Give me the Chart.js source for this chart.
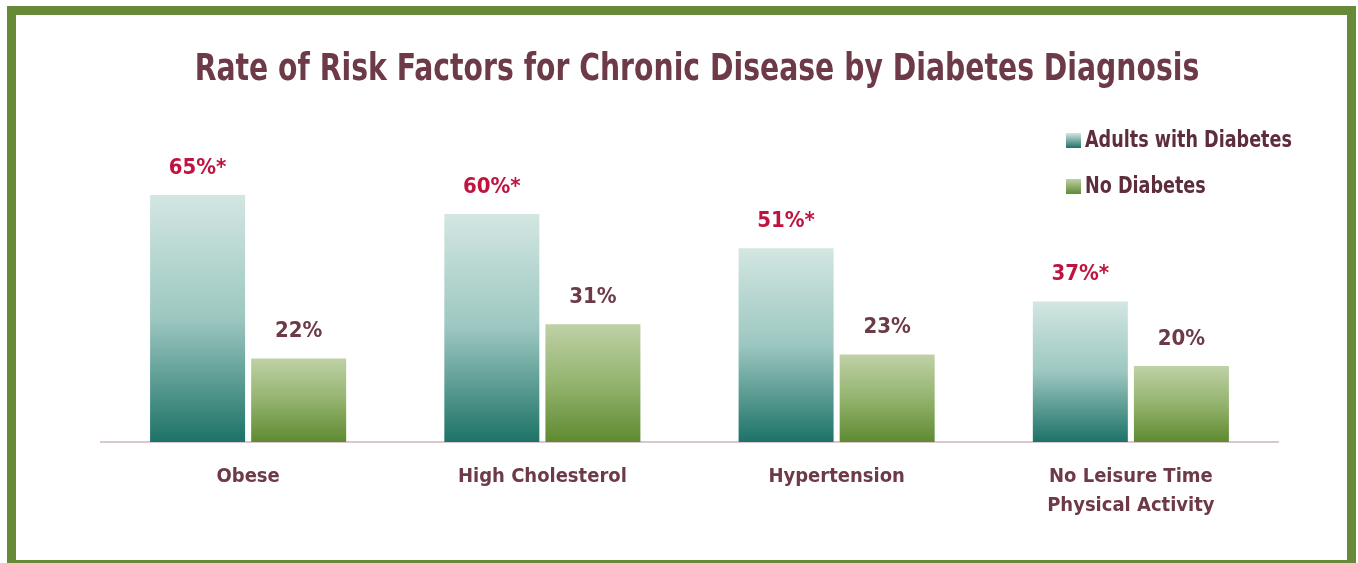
<!DOCTYPE html>
<html>
<head>
<meta charset="utf-8">
<title>Rate of Risk Factors for Chronic Disease by Diabetes Diagnosis</title>
<script src="https://cdn.jsdelivr.net/npm/chart.js@4.4.0/dist/chart.umd.min.js"></script>
<style>
  html, body { margin: 0; padding: 0; background: #fff; overflow: hidden; }
  #frame {
    position: absolute; left: 7px; top: 6px; width: 1349px; height: 563px;
    box-sizing: border-box; border: 9px solid #678a39;
  }
  #mycanvas { position: absolute; left: 0; top: 0; }
</style>
</head>
<body>
<div id="frame"></div>
<canvas id="mycanvas" width="1358" height="563"></canvas>
<script>
// values
var categories = [["Obese"], ["High Cholesterol"], ["Hypertension"], ["No Leisure Time", "Physical Activity"]];
var seriesNames = ["Adults with Diabetes", "No Diabetes"];
var withDiabetes = [65, 60, 51, 37];
var noDiabetes = [22, 31, 23, 20];
var significant = [true, true, true, true]; // the * after the diabetes values

var chartTitle = "Rate of Risk Factors for Chronic Disease by Diabetes Diagnosis";
var fontName = '"Liberation Sans Narrow", "DejaVu Sans Condensed", "Roboto", sans-serif';
var maroon = '#6d3a47';
var crimson = '#bf1340';

var tealStops = ['#d3e6e2', '#9cc7c0', '#1d7267'];
var greenStops = ['#bfd1a6', '#93b36e', '#5f8a30'];

function barFill(stops) {
    return function (c) {
        var chart = c.chart;
        if (!chart.chartArea || c.type !== 'data') return stops[1];
        var y = chart.scales.y;
        var top = y.getPixelForValue(c.raw);
        var bottom = y.getPixelForValue(0);
        var g = chart.ctx.createLinearGradient(0, top, 0, bottom);
        g.addColorStop(0, stops[0]);
        g.addColorStop(0.5, stops[1]);
        g.addColorStop(1, stops[2]);
        return g;
    };
}

// narrow text: the original face is a condensed one, so squeeze horizontally
function squeezedText(ctx, txt, x, y, sx) {
    ctx.save();
    ctx.translate(x, y);
    ctx.scale(sx, 1);
    ctx.fillText(txt, 0, 0);
    ctx.restore();
}

// title, legend and value labels
var extras = {
    id: 'extras',
    afterDatasetsDraw: function (chart) {
        var ctx = chart.ctx;
        ctx.save();

        ctx.fillStyle = maroon;
        ctx.font = 'bold 37px ' + fontName;
        ctx.textAlign = 'center';
        ctx.textBaseline = 'middle';
        squeezedText(ctx, chartTitle, 697, 70, 0.85);

        ctx.font = 'bold 22px ' + fontName;
        chart.data.datasets.forEach(function (ds, i) {
            var meta = chart.getDatasetMeta(i);
            meta.data.forEach(function (bar, j) {
                var txt = ds.data[j] + '%' + (i === 0 && significant[j] ? '*' : '');
                ctx.fillStyle = i === 0 ? crimson : maroon;
                ctx.fillText(txt, bar.x, bar.y - 27);
            });
        });

        // legend
        var stops = [tealStops, greenStops];
        ctx.textAlign = 'left';
        ctx.font = 'bold 23px ' + fontName;
        seriesNames.forEach(function (name, i) {
            var y = 133 + i * 46;
            var g = ctx.createLinearGradient(0, y, 0, y + 15);
            g.addColorStop(0, stops[i][0]);
            g.addColorStop(1, stops[i][2]);
            ctx.fillStyle = g;
            ctx.fillRect(1066, y, 15, 15);
            ctx.fillStyle = '#5e2d3b';
            squeezedText(ctx, name, 1085, y + 8, 0.85);
        });
        ctx.restore();
    }
};

var chartdata = {
    labels: categories,
    datasets: [
        {
            label: seriesNames[0],
            data: withDiabetes,
            backgroundColor: barFill(tealStops)
        },
        {
            label: seriesNames[1],
            data: noDiabetes,
            backgroundColor: barFill(greenStops)
        }
    ]
};

var ctx = document.getElementById('mycanvas');

var barGraph = new Chart(ctx, {
    type: 'bar',
    data: chartdata,
    plugins: [extras],
    options: {
        responsive: false,
        animation: false,
        devicePixelRatio: 1,
        layout: { padding: { left: 101, right: 80, top: 138, bottom: 0 } },
        datasets: {
            bar: { categoryPercentage: 0.687, barPercentage: 0.94 }
        },
        plugins: {
            legend: { display: false },
            title: { display: false },
            tooltip: { enabled: false }
        },
        scales: {
            x: {
                grid: { display: false, drawTicks: false },
                border: { display: true, color: '#d8c9cd', width: 2 },
                afterFit: function (axis) { axis.height = 121; },
                ticks: {
                    padding: 20,
                    maxRotation: 0,
                    autoSkip: false,
                    color: maroon,
                    font: { family: fontName, size: 20, weight: 'bold', lineHeight: 1.45 }
                }
            },
            y: {
                display: false,
                min: 0,
                max: 80
            }
        }
    }
});
</script>
</body>
</html>
